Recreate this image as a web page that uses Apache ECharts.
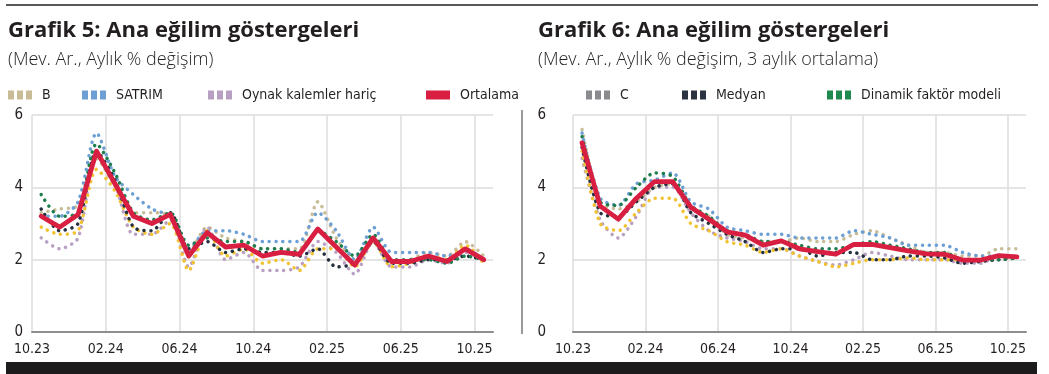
<!DOCTYPE html>
<html>
<head>
<meta charset="utf-8">
<script src="https://cdn.jsdelivr.net/npm/echarts@6/dist/echarts.min.js"></script>
<style>
html,body{margin:0;padding:0;background:#fff;}
#chart{width:1049px;height:374px;}
</style>
</head>
<body>
<div id="chart"></div>
<script>
// ---- Data ----
const months = ['10.23','11.23','12.23','01.24','02.24','03.24','04.24','05.24','06.24','07.24','08.24','09.24','10.24','11.24','12.24','01.25','02.25','03.25','04.25','05.25','06.25','07.25','08.25','09.25','10.25'];
const xTickLabels = ['10.23','02.24','06.24','10.24','02.25','06.25','10.25'];
const yTickValues = [0, 2, 4, 6];

// Grafik 5: monthly % change
const g5_B        = [3.3,3.4,3.5,4.8,4.0,3.3,3.3,3.2,2.2,2.9,2.6,2.5,2.3,2.3,2.3,3.6,2.6,2.0,2.6,1.9,2.0,2.2,2.1,2.5,2.1];
const g5_SATRIM   = [3.2,3.2,3.6,5.5,4.3,3.8,3.4,3.2,2.3,2.8,2.8,2.7,2.5,2.5,2.5,3.3,2.8,2.0,2.9,2.2,2.2,2.2,2.1,2.3,2.0];
const g5_Oynak    = [2.6,2.3,2.6,4.9,4.1,2.7,2.7,3.1,1.8,2.9,2.0,2.2,1.7,1.7,1.8,2.5,2.2,1.6,2.5,1.8,1.8,2.0,1.9,2.2,2.0];
const g5_C        = [2.9,2.7,2.8,4.5,3.9,2.9,2.7,3.0,1.7,2.8,2.1,2.3,1.9,2.0,1.7,2.3,2.3,1.8,2.5,1.8,1.9,2.1,2.0,2.4,1.9];
const g5_Medyan   = [3.4,2.8,3.0,5.0,4.2,2.9,2.8,3.3,2.3,2.5,2.2,2.3,2.2,2.2,2.1,2.3,1.8,1.9,2.5,1.9,1.9,2.0,2.0,2.1,2.0];
const g5_Dinamik  = [3.8,3.2,3.3,5.2,4.4,3.3,3.1,3.3,2.4,2.6,2.5,2.5,2.3,2.3,2.2,2.8,2.5,2.1,2.7,2.0,2.0,2.0,1.9,2.1,2.0];
const g5_Ortalama = [3.2,2.9,3.25,5.0,4.1,3.2,3.0,3.25,2.1,2.75,2.35,2.4,2.1,2.2,2.15,2.85,2.35,1.85,2.6,1.95,1.95,2.1,1.95,2.3,2.0];

// Grafik 6: monthly % change, 3-month average
const g6_B        = [5.6,3.6,3.4,3.6,4.0,4.1,3.4,3.2,2.7,2.6,2.5,2.5,2.6,2.5,2.5,2.7,2.8,2.6,2.4,2.2,2.2,2.1,2.1,2.3,2.3];
const g6_SATRIM   = [5.5,3.7,3.5,4.1,4.2,4.4,3.6,3.4,2.9,2.8,2.7,2.7,2.6,2.6,2.6,2.8,2.7,2.6,2.4,2.4,2.4,2.2,2.1,2.1,2.1];
const g6_Oynak    = [4.8,3.1,2.6,3.2,4.0,4.0,3.3,2.8,2.6,2.5,2.3,2.3,2.1,1.95,1.85,2.0,2.2,2.1,2.0,2.0,2.0,1.9,1.9,2.1,2.1];
const g6_C        = [5.0,3.0,2.8,3.3,3.7,3.7,3.0,2.8,2.5,2.4,2.2,2.3,2.1,1.95,1.8,1.9,2.0,2.0,2.05,2.0,2.0,2.0,2.0,2.1,2.1];
const g6_Medyan   = [5.1,3.3,3.2,3.6,4.0,4.1,3.3,3.0,2.7,2.5,2.2,2.3,2.3,2.1,2.2,2.2,2.0,2.0,2.1,2.1,2.05,1.9,1.95,2.0,2.05];
const g6_Dinamik  = [5.4,3.6,3.5,4.0,4.4,4.3,3.5,3.2,2.8,2.7,2.5,2.5,2.4,2.3,2.3,2.4,2.5,2.4,2.3,2.2,2.2,2.0,2.0,2.0,2.05];
const g6_Ortalama = [5.23,3.48,3.12,3.7,4.16,4.16,3.45,3.12,2.77,2.68,2.4,2.52,2.3,2.22,2.15,2.42,2.42,2.33,2.24,2.16,2.15,1.99,1.99,2.11,2.08];

const seriesNames = ['B','SATRIM','Oynak kalemler hariç','C','Medyan','Dinamik faktör modeli','Ortalama'];
const seriesColors = {
  'B':'#c8bc96', 'SATRIM':'#6c9fd3', 'Oynak kalemler hariç':'#b9a0c2',
  'C':'#f1c232', 'Medyan':'#25303f', 'Dinamik faktör modeli':'#1e7d4c', 'Ortalama':'#d81f41'
};
const legendIconColors = {
  'B':'#c8bc96', 'SATRIM':'#6c9fd3', 'Oynak kalemler hariç':'#b9a0c2',
  'C':'#898b8f', 'Medyan':'#2b3340', 'Dinamik faktör modeli':'#1f8a50', 'Ortalama':'#d81f41'
};
const g5 = [g5_B,g5_SATRIM,g5_Oynak,g5_C,g5_Medyan,g5_Dinamik,g5_Ortalama];
const g6 = [g6_B,g6_SATRIM,g6_Oynak,g6_C,g6_Medyan,g6_Dinamik,g6_Ortalama];

// ---- Chart ----
const NARROW = '"DejaVu Sans Condensed","Liberation Sans Narrow","Roboto",sans-serif';
const INK = '#231f20';
const chart = echarts.init(document.getElementById('chart'), null, {renderer:'canvas'});

function toPoints(arr){ return arr.map((v,i)=>[i+0.5, v]); }

function buildSeries(sets, gi){
  const out = [];
  [0,1,2,3,4,5,6].forEach(k=>{
    const name = seriesNames[k];
    const isAvg = name === 'Ortalama';
    out.push({
      name, type:'line', xAxisIndex:gi, yAxisIndex:gi,
      data: toPoints(sets[k]), symbol:'none', silent:true,
      smooth: isAvg ? false : 0.25,
      z: isAvg ? 10 : 3 + k*0.1,
      lineStyle: isAvg
        ? {color: seriesColors[name], width: 4.8, join:'round', cap:'round'}
        : {color: seriesColors[name], width: 3.5, type:[0.1,6.8], cap:'round'},
      itemStyle:{color: seriesColors[name]},
      emphasis:{disabled:true},
      animation:false
    });
  });
  return out;
}

const dotIcon = 'path://M0,0h6v9h-6z M9,0h6v9h-6z M18,0h6v9h-6z';
function legendItem(name, left, top){
  const isAvg = name === 'Ortalama';
  return {
    left: left - 5, top, orient:'horizontal', itemWidth:24, itemHeight:9, itemGap:10,
    icon: isAvg ? 'rect' : dotIcon,
    selectedMode:false,
    data:[{name, itemStyle:{color: legendIconColors[name], borderWidth:0}}],
    textStyle:{fontFamily:NARROW, fontSize:14, color:INK, padding:[0,0,0,5]}
  };
}

function xAxisCfg(gi){
  return {
    type:'value', gridIndex:gi, min:0, max:months.length, interval:4,
    axisLine:{show:true, onZero:false, lineStyle:{color:'#8e8e8e', width:2}},
    axisTick:{show:false},
    splitLine:{show:true, showMaxLine:false, lineStyle:{color:'#dcdcdc', width:1.5}},
    axisLabel:{
      show:true, margin:10, showMaxLabel:false, color:INK,
      fontFamily:NARROW, fontSize:14,
      formatter:(v)=> (v % 4 === 0 && xTickLabels[v/4] !== undefined) ? xTickLabels[v/4] : ''
    }
  };
}
function yAxisCfg(gi, margin){
  return {
    type:'value', gridIndex:gi, min:yTickValues[0], max:yTickValues[yTickValues.length-1], interval:2,
    axisLine:{show:false}, axisTick:{show:false},
    splitLine:{show:true, lineStyle:{color:'#dcdcdc', width:1.5}},
    axisLabel:{color:INK, fontFamily:NARROW, fontSize:15, margin}
  };
}

const TITLE_FONT = '"Open Sans","Roboto",sans-serif';
const option = {
  backgroundColor:'#ffffff',
  animation:false,
  title:[
    {text:'Grafik 5: Ana eğilim göstergeleri', left:3, top:15,
     textStyle:{fontFamily:TITLE_FONT, fontWeight:'bold', fontSize:22, color:INK}},
    {text:'(Mev. Ar., Aylık % değişim)', left:3, top:46,
     textStyle:{fontFamily:TITLE_FONT, fontWeight:300, fontSize:18, color:INK}},
    {text:'Grafik 6: Ana eğilim göstergeleri', left:533, top:15,
     textStyle:{fontFamily:TITLE_FONT, fontWeight:'bold', fontSize:22, color:INK}},
    {text:'(Mev. Ar., Aylık % değişim, 3 aylık ortalama)', left:533, top:46,
     textStyle:{fontFamily:TITLE_FONT, fontWeight:300, fontSize:18, color:INK}}
  ],
  legend:[
    legendItem('B', 8, 83),
    legendItem('SATRIM', 82, 83),
    legendItem('Oynak kalemler hariç', 208, 83),
    legendItem('Ortalama', 426, 83),
    legendItem('C', 586, 83),
    legendItem('Medyan', 682, 83),
    legendItem('Dinamik faktör modeli', 827, 83)
  ],
  grid:[
    {left:32, top:115, width:461, height:217, containLabel:false},
    {left:573, top:115, width:453, height:217, containLabel:false}
  ],
  xAxis:[xAxisCfg(0), xAxisCfg(1)],
  yAxis:[yAxisCfg(0, 9), yAxisCfg(1, 27)],
  series:[...buildSeries(g5,0), ...buildSeries(g6,1)],
  graphic:[
    {type:'line', shape:{x1:6,y1:5,x2:1038,y2:5}, style:{stroke:'#231f20', lineWidth:1.5}, silent:true},
    {type:'line', shape:{x1:522,y1:110,x2:522,y2:334}, style:{stroke:'#9a9a9a', lineWidth:2}, silent:true},
    {type:'rect', shape:{x:6,y:362,width:1031,height:12}, style:{fill:'#1e1b1c'}, silent:true}
  ]
};
chart.setOption(option);
</script>
</body>
</html>
